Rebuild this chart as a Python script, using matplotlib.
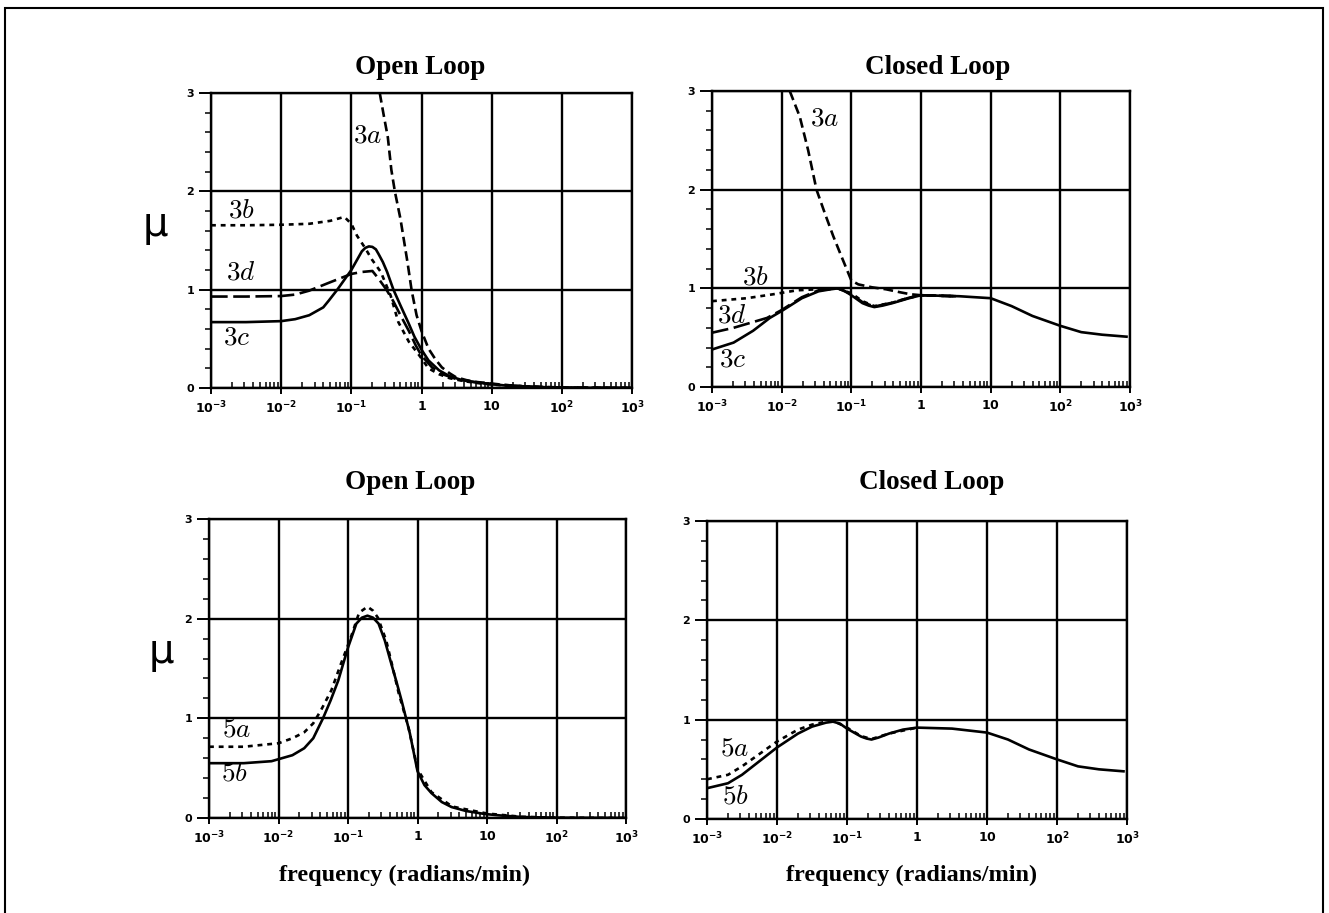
import numpy as np
import matplotlib
matplotlib.use('Agg')
import matplotlib.pyplot as plt
from matplotlib.patches import Rectangle

W, H = 1329, 913
plt.rcParams['lines.scale_dashes'] = False

# ---------------- data (log10 frequency, mu) ----------------
xticks = [1e-3, 1e-2, 1e-1, 1, 10, 100, 1000]
xticklabels = [r'$\mathbf{10^{-3}}$', r'$\mathbf{10^{-2}}$', r'$\mathbf{10^{-1}}$',
               r'$\mathbf{1}$', r'$\mathbf{10}$', r'$\mathbf{10^{2}}$', r'$\mathbf{10^{3}}$']
yticks = [0, 1, 2, 3]
yticklabels = ['0', '1', '2', '3']
titles = ['Open Loop', 'Closed Loop', 'Open Loop', 'Closed Loop']
xlabel = 'frequency (radians/min)'
ylabel = 'μ'

# Top-left: open loop, cases 3a-3d
ol3a_lw = [-0.595, -0.54, -0.48, -0.43, -0.38, -0.30, -0.25, -0.20, -0.14, -0.07, 0.0, 0.1, 0.2,
           0.29, 0.4, 0.49, 0.64, 0.8, 1.0, 1.2, 1.5, 2.0, 3.0]
ol3a_mu = [3.0, 2.78, 2.55, 2.22, 2.0, 1.72, 1.5, 1.28, 0.99, 0.74, 0.58, 0.40, 0.29,
           0.21, 0.15, 0.11, 0.08, 0.06, 0.045, 0.03, 0.015, 0.005, 0.0]
ol3b_lw = [-3.0, -2.5, -2.0, -1.6, -1.3, -1.1, -1.0, -0.92, -0.8, -0.71, -0.58, -0.44, -0.33,
           -0.18, -0.04, 0.1, 0.25, 0.4, 0.6, 0.8, 1.0, 1.3, 1.7, 2.2, 3.0]
ol3b_mu = [1.655, 1.655, 1.66, 1.67, 1.70, 1.74, 1.67, 1.55, 1.42, 1.31, 1.18, 0.94, 0.67,
           0.47, 0.34, 0.20, 0.14, 0.10, 0.07, 0.05, 0.035, 0.02, 0.01, 0.003, 0.0]
ol3c_lw = [-3.0, -2.5, -2.0, -1.8, -1.6, -1.4, -1.32, -1.2, -1.0, -0.85, -0.8, -0.75, -0.7,
           -0.65, -0.61, -0.55, -0.49, -0.4, -0.3, -0.185, -0.1, 0.0, 0.1, 0.25, 0.4, 0.58, 0.8,
           1.0, 1.2, 1.5, 2.0, 3.0]
ol3c_mu = [0.67, 0.67, 0.68, 0.70, 0.74, 0.82, 0.89, 1.0, 1.20, 1.39, 1.425, 1.44, 1.435,
           1.41, 1.36, 1.28, 1.18, 1.0, 0.84, 0.66, 0.52, 0.39, 0.28, 0.18, 0.12, 0.08, 0.055,
           0.04, 0.025, 0.01, 0.003, 0.0]
ol3d_lw = [-3.0, -2.5, -2.0, -1.8, -1.6, -1.32, -1.0, -0.85, -0.7, -0.61, -0.5, -0.4, -0.3,
           -0.18, -0.08, 0.0, 0.15, 0.3, 0.5, 0.7, 1.0, 1.3, 1.7, 2.2, 3.0]
ol3d_mu = [0.93, 0.93, 0.935, 0.95, 0.99, 1.07, 1.16, 1.18, 1.19, 1.11, 1.0, 0.88, 0.74,
           0.58, 0.43, 0.33, 0.21, 0.14, 0.09, 0.065, 0.04, 0.025, 0.01, 0.003, 0.0]

# Top-right: closed loop, cases 3a-3d
cl3a_lw = [-1.884, -1.74, -1.62, -1.5, -1.38, -1.26, -1.14, -1.07, -1.0, -0.9, -0.7, -0.5, -0.3,
           -0.15, 0.0, 0.5]
cl3a_mu = [3.0, 2.74, 2.40, 2.0, 1.76, 1.53, 1.32, 1.2, 1.08, 1.04, 1.01, 0.99, 0.96,
           0.94, 0.93, 0.92]
cl3b_lw = [-3.0, -2.5, -2.12, -1.78, -1.5, -1.2, -1.0, -0.84, -0.67, -0.41, -0.17, 0.0, 0.5]
cl3b_mu = [0.87, 0.90, 0.94, 0.98, 0.99, 1.0, 0.95, 0.87, 0.82, 0.855, 0.905, 0.93, 0.92]
cl3c_lw = [-3.0, -2.69, -2.41, -2.17, -2.0, -1.71, -1.47, -1.3, -1.19, -1.1, -1.0, -0.84, -0.75,
           -0.67, -0.55, -0.41, -0.17, 0.0, 0.55, 1.0, 1.3, 1.6, 2.0, 2.3, 2.6, 2.95]
cl3c_mu = [0.38, 0.45, 0.57, 0.70, 0.77, 0.90, 0.97, 0.99, 1.0, 0.975, 0.93, 0.85, 0.825,
           0.81, 0.825, 0.85, 0.90, 0.93, 0.92, 0.90, 0.82, 0.72, 0.62, 0.556, 0.53, 0.51]
cl3d_lw = [-3.0, -2.69, -2.45, -2.21, -2.0, -1.71, -1.47, -1.19, -1.0, -0.84, -0.67, -0.41, -0.17,
           0.0, 0.5]
cl3d_mu = [0.55, 0.60, 0.65, 0.70, 0.78, 0.91, 0.98, 1.0, 0.94, 0.86, 0.815, 0.855, 0.905,
           0.93, 0.92]

# Bottom-left: open loop, cases 5a-5b
ol5a_lw = [-3.0, -2.5, -2.0, -1.8, -1.63, -1.5, -1.39, -1.24, -1.1, -0.96, -0.84, -0.72, -0.64,
           -0.57, -0.45, -0.36, -0.27, -0.13, 0.0, 0.2, 0.5, 1.0, 1.5, 2.0, 3.0]
ol5a_mu = [0.715, 0.715, 0.75, 0.80, 0.86, 0.95, 1.08, 1.28, 1.55, 1.81, 2.06, 2.12, 2.08,
           2.01, 1.78, 1.52, 1.25, 0.91, 0.49, 0.26, 0.115, 0.045, 0.012, 0.003, 0.0]
ol5b_lw = [-3.0, -2.5, -2.1, -1.8, -1.63, -1.5, -1.36, -1.25, -1.14, -1.0, -0.88, -0.8, -0.72,
           -0.64, -0.56, -0.47, -0.39, -0.3, -0.23, -0.11, 0.0, 0.1, 0.2, 0.35, 0.49, 0.7, 0.97,
           1.2, 1.5, 2.0, 3.0]
ol5b_mu = [0.55, 0.55, 0.57, 0.63, 0.70, 0.80, 1.0, 1.18, 1.38, 1.71, 1.95, 2.01, 2.03,
           2.01, 1.95, 1.78, 1.58, 1.36, 1.18, 0.85, 0.47, 0.33, 0.25, 0.16, 0.11, 0.07, 0.04,
           0.025, 0.01, 0.003, 0.0]

# Bottom-right: closed loop, cases 5a-5b
cl5a_lw = [-3.0, -2.7, -2.5, -2.2, -2.0, -1.7, -1.5, -1.3, -1.2, -1.0, -0.8, -0.65, -0.4, 0.0]
cl5a_mu = [0.40, 0.445, 0.53, 0.68, 0.78, 0.90, 0.95, 0.98, 0.99, 0.92, 0.835, 0.805, 0.86, 0.92]
cl5b_lw = [-3.0, -2.7, -2.5, -2.2, -2.0, -1.7, -1.5, -1.3, -1.2, -1.1, -1.0, -0.8, -0.72, -0.65,
           -0.55, -0.4, -0.2, 0.0, 0.5, 1.0, 1.3, 1.6, 2.0, 2.3, 2.6, 2.95]
cl5b_mu = [0.31, 0.36, 0.445, 0.61, 0.72, 0.86, 0.93, 0.97, 0.98, 0.96, 0.91, 0.83, 0.81, 0.80,
           0.82, 0.86, 0.90, 0.92, 0.91, 0.87, 0.80, 0.70, 0.60, 0.53, 0.50, 0.48]

# curve label positions (log10 frequency, mu)
lab_tl = [('3a', -0.77, 2.57), ('3b', -2.56, 1.81), ('3d', -2.57, 1.17), ('3c', -2.63, 0.51)]
lab_tr = [('3a', -1.38, 2.72), ('3b', -2.37, 1.11), ('3d', -2.71, 0.72), ('3c', -2.70, 0.28)]
lab_bl = [('5a', -2.60, 0.89), ('5b', -2.64, 0.45)]
lab_br = [('5a', -2.60, 0.71), ('5b', -2.60, 0.23)]

# ---------------- styles ----------------
LW = 1.9
sty = {
    'a3': dict(dashes=(7, 3.5)),
    'b3': dict(dashes=(3.5, 3.5)),
    'd3': dict(dashes=(12, 4)),
    'solid': dict(linestyle='-'),
    'a5': dict(dashes=(3.5, 3.5)),
}

fig = plt.figure(figsize=(W / 100, H / 100), dpi=100)
fig.patches.append(Rectangle((5 / W, -0.02), (1323 - 5) / W, 1.02 - 8 / H, transform=fig.transFigure,
                             fill=False, edgecolor='black', linewidth=1.5, clip_on=False))


def rect(l, t, r, b):
    return [l / W, 1 - b / H, (r - l) / W, (b - t) / H]


minor_x = [m * 10.0 ** e for e in range(-3, 3) for m in range(2, 10)]
minor_y = [0.2 * i for i in range(16)]


def setup(ax):
    ax.set_xscale('log')
    ax.set_xlim(1e-3, 1e3)
    ax.set_ylim(0, 3)
    ax.set_xticks(xticks, labels=xticklabels, fontsize=9)
    ax.set_xticks(minor_x, minor=True)
    ax.set_xticklabels([], minor=True)
    ax.set_yticks(yticks, labels=yticklabels, fontsize=8, fontweight='bold')
    ax.set_yticks(minor_y, minor=True)
    ax.set_yticklabels([], minor=True)
    ax.grid(True, which='major', color='black', linewidth=1.7)
    ax.tick_params(axis='x', which='major', direction='inout', length=9, width=1.4, pad=4)
    ax.tick_params(axis='x', which='minor', direction='in', length=4.5, width=1.1)
    ax.tick_params(axis='y', which='major', direction='out', length=9, width=1.4, pad=3)
    ax.tick_params(axis='y', which='minor', direction='out', length=4, width=1.1)
    for s in ax.spines.values():
        s.set_linewidth(1.7)


def curve(ax, lw, mu, key):
    ax.plot(10.0 ** np.array(lw), mu, color='black', linewidth=LW,
            solid_joinstyle='round', dash_joinstyle='round', **sty[key])


def labels(ax, labs):
    for t, lx, y in labs:
        ax.text(10.0 ** lx, y, '$' + t[0] + t[1] + '$', math_fontfamily='cm', fontsize=19.5,
                ha='center', va='center', color='black')


ax_tl = fig.add_axes(rect(211, 93, 632, 388))
ax_tr = fig.add_axes(rect(712, 91, 1130, 387))
ax_bl = fig.add_axes(rect(209, 519, 626, 818))
ax_br = fig.add_axes(rect(707, 521, 1127, 819))
for a in (ax_tl, ax_tr, ax_bl, ax_br):
    setup(a)

curve(ax_tl, ol3a_lw, ol3a_mu, 'a3')
curve(ax_tl, ol3b_lw, ol3b_mu, 'b3')
curve(ax_tl, ol3d_lw, ol3d_mu, 'd3')
curve(ax_tl, ol3c_lw, ol3c_mu, 'solid')
labels(ax_tl, lab_tl)

curve(ax_tr, cl3a_lw, cl3a_mu, 'a3')
curve(ax_tr, cl3b_lw, cl3b_mu, 'b3')
curve(ax_tr, cl3d_lw, cl3d_mu, 'd3')
curve(ax_tr, cl3c_lw, cl3c_mu, 'solid')
labels(ax_tr, lab_tr)

curve(ax_bl, ol5a_lw, ol5a_mu, 'a5')
curve(ax_bl, ol5b_lw, ol5b_mu, 'solid')
labels(ax_bl, lab_bl)

curve(ax_br, cl5a_lw, cl5a_mu, 'a5')
curve(ax_br, cl5b_lw, cl5b_mu, 'solid')
labels(ax_br, lab_br)

# titles
tfont = dict(family='Liberation Serif', fontweight='bold', fontsize=19.5, ha='center', va='baseline')
fig.text(420 / W, 1 - 74 / H, titles[0], **tfont)
fig.text(938 / W, 1 - 74 / H, titles[1], **tfont)
fig.text(410 / W, 1 - 489 / H, titles[2], **tfont)
fig.text(932 / W, 1 - 489 / H, titles[3], **tfont)

# y labels
fig.text(155 / W, 1 - 225 / H, ylabel, family='DejaVu Sans', fontsize=29, ha='center', va='center')
fig.text(161 / W, 1 - 652 / H, ylabel, family='DejaVu Sans', fontsize=29, ha='center', va='center')

# x labels
xfont = dict(family='Liberation Serif', fontweight='bold', fontsize=17.5, ha='center', va='baseline')
fig.text(405 / W, 1 - 881 / H, xlabel, **xfont)
fig.text(912 / W, 1 - 881 / H, xlabel, **xfont)

fig.savefig('out.png', dpi=100)
